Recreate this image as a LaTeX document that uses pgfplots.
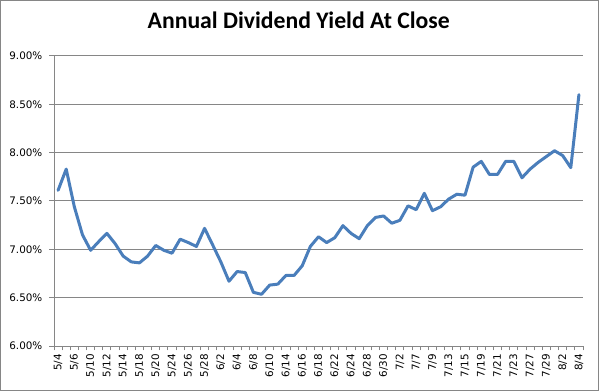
\documentclass[border=0pt]{standalone}
\usepackage{fontspec}
\setmainfont{DejaVu Sans}
\newfontfamily\titlefont{Carlito}
\usepackage{pgfplots}
\pgfplotsset{compat=1.18}
\definecolor{ser}{HTML}{4A7EBB}
\definecolor{grd}{HTML}{868686}
\begin{document}
\begin{tikzpicture}
\path[use as bounding box] (0,0) rectangle (599bp,391bp);
\draw[grd, line width=1bp] (0.5bp,0.5bp) rectangle (598.5bp,390.5bp);
\begin{axis}[
  at={(54bp,45bp)}, anchor=south west,
  scale only axis, width=529bp, height=290bp,
  xmin=-0.5, xmax=64.5, ymin=6, ymax=9,
  axis x line*=bottom, axis y line*=left,
  axis line style={grd, line width=1bp, -},
  tick align=outside,
  major tick length=4.5bp,
  tick style={grd, line width=1bp},
  ymajorgrids, grid style={grd, line width=1bp},
  ytick={6,6.5,...,9},
  yticklabel={\pgfmathprintnumber[fixed,fixed zerofill,precision=2]{\tick}\%},
  /pgf/number format/assume math mode=true,
  yticklabel style={anchor=east, inner sep=0pt, xshift=-7bp},
  xtick={-0.5,0.5,...,64.5},
  xticklabels={},
  extra x ticks={0,2,...,64},
  extra x tick labels={5/4,5/6,5/10,5/12,5/14,5/18,5/20,5/24,5/26,5/28,6/2,6/4,6/8,6/10,6/14,6/16,6/18,6/22,6/24,6/28,6/30,7/2,7/7,7/9,7/13,7/15,7/19,7/21,7/23,7/27,7/29,8/2,8/4},
  extra x tick style={major tick length=0pt, grid=none,
    tick label style={yshift=-8bp, rotate=90, anchor=east, inner sep=0pt}},
  tick label style={font=\fontsize{10.4}{12}\selectfont, text=black},
  title={\titlefont\bfseries Annual Dividend Yield At Close},
  title style={at={(axis description cs:0.4626,1)}, anchor=base, yshift=21.7bp, inner sep=0pt, font=\fontsize{23.8}{28}\selectfont},
  clip=false,
]
\addplot[ser, line width=3bp, line join=round, line cap=round, mark=none] table {
x y
0 7.61
1 7.83
2 7.44
3 7.15
4 6.99
5 7.08
6 7.165
7 7.06
8 6.93
9 6.87
10 6.86
11 6.93
12 7.04
13 6.99
14 6.96
15 7.105
16 7.07
17 7.03
18 7.217
19 7.045
20 6.87
21 6.67
22 6.77
23 6.76
24 6.555
25 6.535
26 6.63
27 6.64
28 6.73
29 6.73
30 6.83
31 7.03
32 7.13
33 7.07
34 7.12
35 7.245
36 7.165
37 7.11
38 7.245
39 7.33
40 7.345
41 7.27
42 7.30
43 7.45
44 7.41
45 7.58
46 7.40
47 7.44
48 7.52
49 7.57
50 7.56
51 7.85
52 7.91
53 7.775
54 7.775
55 7.91
56 7.91
57 7.74
58 7.83
59 7.90
60 7.96
61 8.02
62 7.97
63 7.845
64 8.60
};
\end{axis}
\end{tikzpicture}
\end{document}
